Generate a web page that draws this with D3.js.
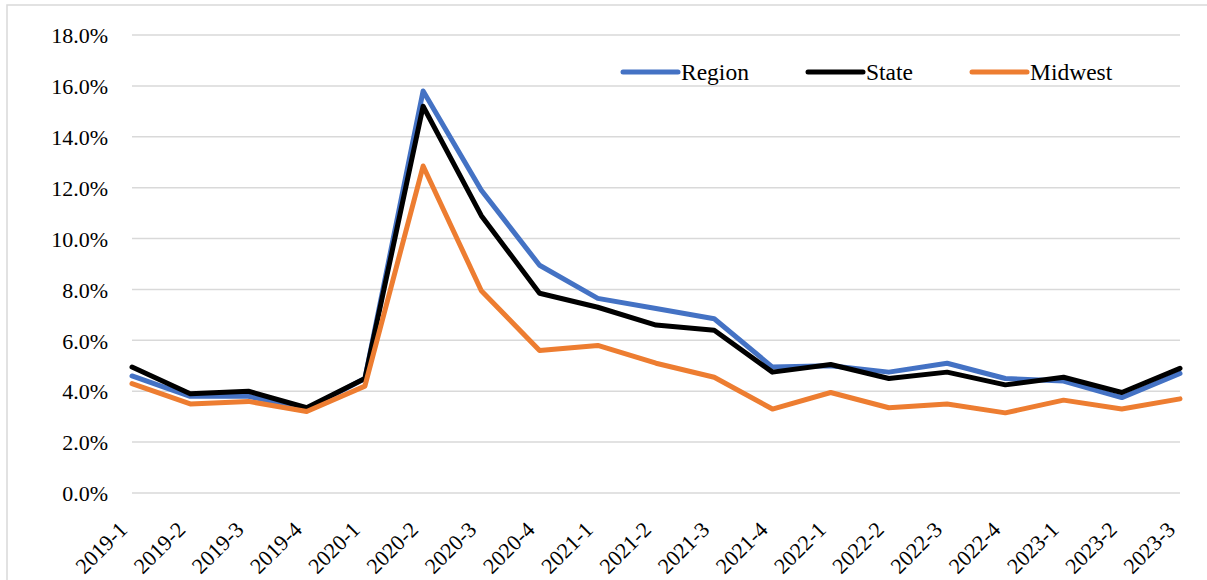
<!DOCTYPE html>
<meta charset="utf-8">
<html lang="en">
<head>
  <title>Unemployment rate by quarter</title>
  <script src="https://d3js.org/d3.v7.min.js"></script>
  <style>
    body { margin: 0; background: #fff; }
  </style>
</head>
<body>
<script>
// quarters and rates (percent)
var quarters = ["2019-1","2019-2","2019-3","2019-4","2020-1","2020-2","2020-3","2020-4",
  "2021-1","2021-2","2021-3","2021-4","2022-1","2022-2","2022-3","2022-4","2023-1","2023-2","2023-3"];
var region  = [4.6, 3.8, 3.8, 3.3, 4.5, 15.8, 11.9, 8.95, 7.65, 7.25, 6.85, 4.95, 5.0, 4.75, 5.1, 4.5, 4.4, 3.75, 4.7];
var state   = [4.95, 3.9, 4.0, 3.35, 4.5, 15.2, 10.9, 7.85, 7.3, 6.6, 6.4, 4.75, 5.05, 4.5, 4.75, 4.25, 4.55, 3.95, 4.9];
var midwest = [4.3, 3.5, 3.6, 3.2, 4.2, 12.85, 7.95, 5.6, 5.8, 5.1, 4.55, 3.3, 3.95, 3.35, 3.5, 3.15, 3.65, 3.3, 3.7];
var yTicks = [0, 2, 4, 6, 8, 10, 12, 14, 16, 18];

var series = [
  {name: "Region", values: region, color: "#4472C4"},
  {name: "State", values: state, color: "#000000"},
  {name: "Midwest", values: midwest, color: "#ED7D31"}
];

var font = "Liberation Serif";
var width = 1207, height = 580;
var margin = {left: 132, right: 27, top: 35, bottom: 87};

var svg = d3.select("body").append("svg")
    .attr("width", width)
    .attr("height", height);

// chart frame
svg.append("rect")
    .attr("x", 7).attr("y", 5)
    .attr("width", width + 10).attr("height", height + 10)
    .attr("fill", "none")
    .attr("stroke", "#D9D9D9")
    .attr("stroke-width", 1.5);

var x = d3.scalePoint()
    .domain(quarters)
    .range([margin.left, width - margin.right]);

var y = d3.scaleLinear()
    .domain([0, 18])
    .range([height - margin.bottom, margin.top]);

// gridlines
svg.append("g")
  .selectAll("line")
    .data(yTicks)
  .enter().append("line")
    .attr("x1", margin.left)
    .attr("x2", width - margin.right)
    .attr("y1", function(d) { return y(d); })
    .attr("y2", function(d) { return y(d); })
    .attr("stroke", "#D9D9D9")
    .attr("stroke-width", 1.5);

// y axis labels
var yAxis = d3.axisLeft(y)
    .tickValues(yTicks)
    .tickSize(0)
    .tickPadding(24)
    .tickFormat(function(d) { return d.toFixed(1) + "%"; });

svg.append("g")
    .attr("transform", "translate(" + margin.left + ",0)")
    .call(yAxis)
    .attr("font-family", font)
    .attr("font-size", 22)
    .call(function(g) { g.select(".domain").remove(); })
  .selectAll("text")
    .style("font-family", font)
    .attr("fill", "#000")
    .attr("dy", "0.35em");

// x axis labels
var xAxis = d3.axisBottom(x).tickSize(0).tickPadding(0);
svg.append("g")
    .attr("transform", "translate(0," + (height - margin.bottom) + ")")
    .call(xAxis)
    .attr("font-family", font)
    .attr("font-size", 22)
    .call(function(g) { g.select(".domain").remove(); })
  .selectAll("text")
    .style("font-family", font)
    .attr("fill", "#000")
    .attr("text-anchor", "end")
    .attr("y", 0)
    .attr("dy", 0)
    .attr("transform", "translate(-4,38) rotate(-45)");

// lines
var line = d3.line()
    .x(function(d, i) { return x(quarters[i]); })
    .y(function(d) { return y(d); });

svg.append("g")
  .selectAll("path")
    .data(series)
  .enter().append("path")
    .attr("d", function(d) { return line(d.values); })
    .attr("fill", "none")
    .attr("stroke", function(d) { return d.color; })
    .attr("stroke-width", 5)
    .attr("stroke-linejoin", "round")
    .attr("stroke-linecap", "round");

// legend
var legendX = [623, 808, 972];
var legend = svg.append("g")
  .selectAll("g")
    .data(series)
  .enter().append("g")
    .attr("transform", function(d, i) { return "translate(" + legendX[i] + ",72)"; });

legend.append("line")
    .attr("x1", 0).attr("x2", 55)
    .attr("stroke", function(d) { return d.color; })
    .attr("stroke-width", 5)
    .attr("stroke-linecap", "round");

legend.append("text")
    .attr("x", 58)
    .attr("y", 8)
    .style("font-family", font)
    .style("font-size", "23.5px")
    .text(function(d) { return d.name; });
</script>
</body>
</html>
